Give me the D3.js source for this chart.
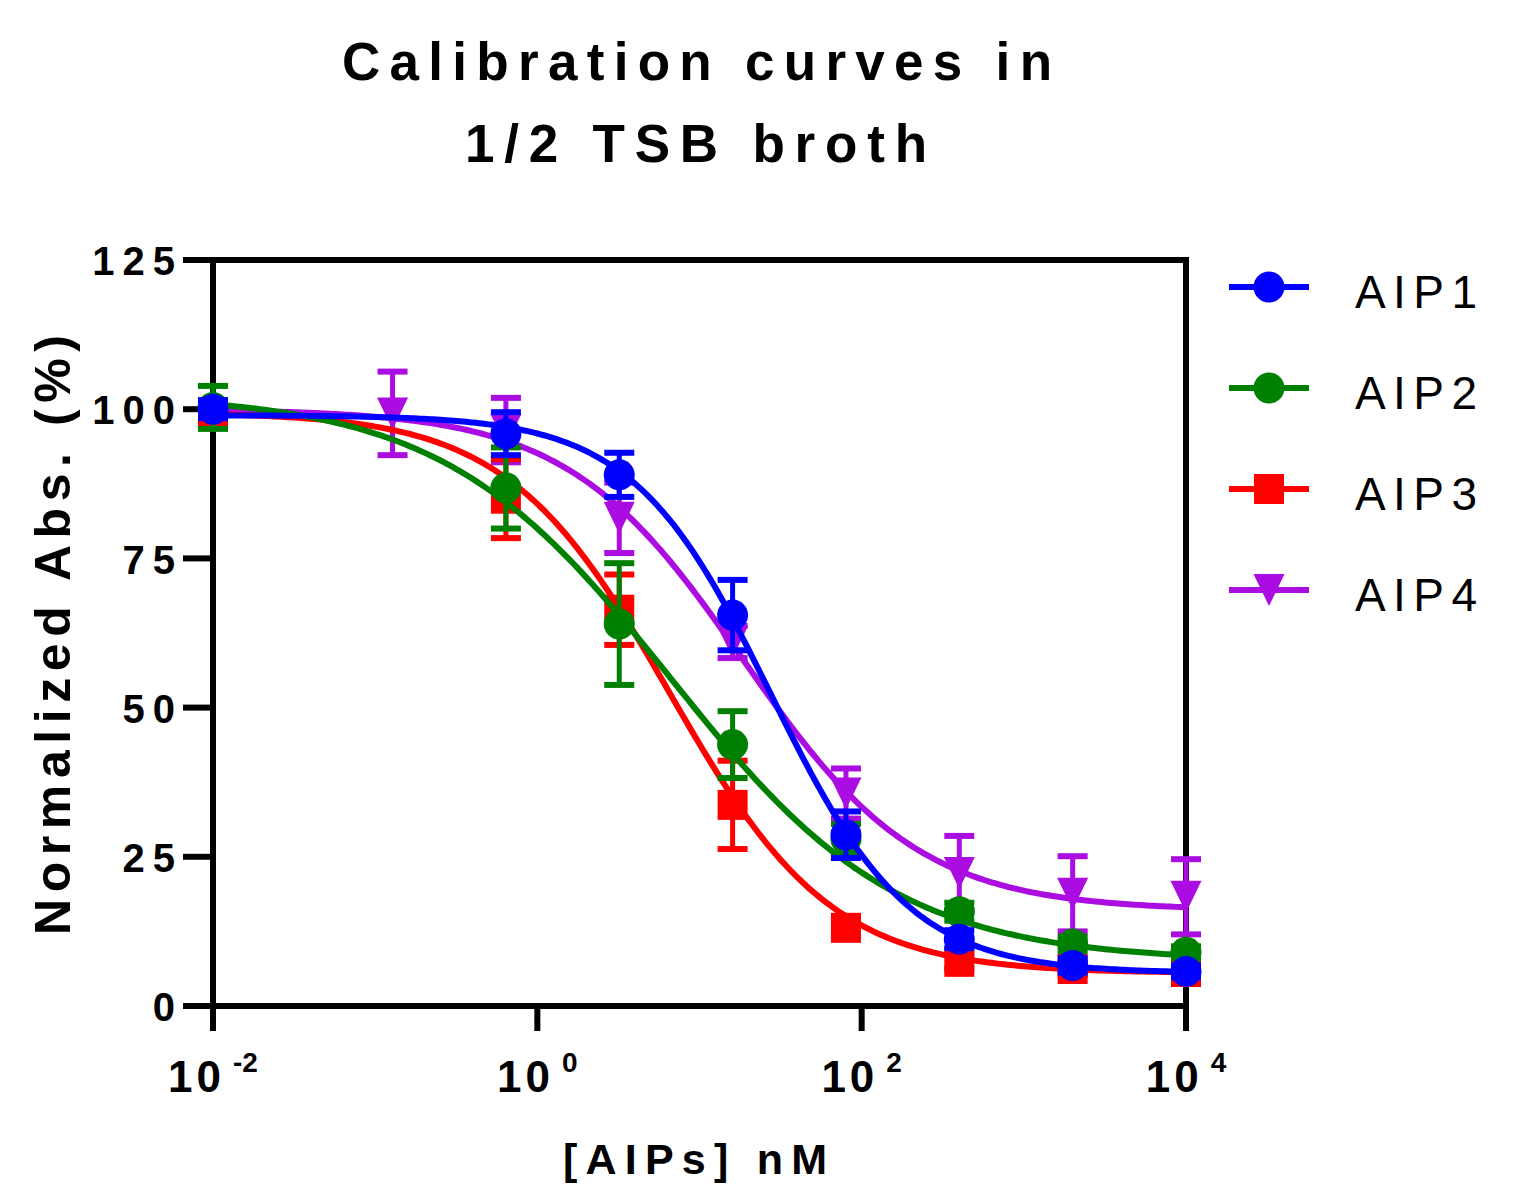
<!DOCTYPE html>
<html>
<head>
<meta charset="utf-8">
<script src="https://cdn.jsdelivr.net/npm/d3@7"></script>
<style>
  body { margin: 0; background: #fff; }
  text { font-family: "Liberation Sans", Arial, sans-serif; fill: #000; }
</style>
</head>
<body>
<svg id="chart" width="1515" height="1188"></svg>
<script>
// concentrations (nM)
const concAIP = [0.01, 0.64, 3.2, 16, 80, 400, 2000, 10000];
const concAIP4 = [0.128, 0.64, 3.2, 16, 80, 400, 2000, 10000];

// normalized absorbance (%) and error bars
const aip1Mean = [100, 95.9, 89, 65.5, 28.7, 11.2, 6.8, 5.8];
const aip1Err = [1.5, 3.6, 3.7, 5.9, 3.9, 1.5, 1.2, 1.0];
const aip2Mean = [100.3, 86.8, 64, 43.8, 28, 15.8, 10.4, 9];
const aip2Err = [3.6, 6.8, 10.2, 5.6, 2.5, 1.5, 1.2, 1.0];
const aip3Mean = [99.5, 85, 66.4, 33.7, 13.1, 7.4, 6.2, 5.7];
const aip3Err = [2, 6.6, 5.9, 7.4, 1.5, 1.2, 1.0, 1.0];
const aip4Mean = [99.3, 96.5, 81.8, 61, 35.6, 22.3, 18.8, 18.3];
const aip4Err = [7.0, 5.4, 5.9, 2.7, 4.2, 6.2, 6.3, 6.3];

const seriesNames = ["AIP1", "AIP2", "AIP3", "AIP4"];
const seriesColors = ["#0000ff", "#008000", "#ff0000", "#aa0ce2"];
const seriesShapes = ["circle", "circle", "square", "triangle"];

// fitted dose-response curves (4PL)
const fitTop = [99, 102.5, 99.5, 100];
const fitBottom = [5.5, 7.5, 5.5, 16];
const fitLogEC50 = [1.44, 0.82, 0.815, 1.27];
const fitHill = [1.02, 0.62, 0.87, 0.8];

const yTicks = [0, 25, 50, 75, 100, 125];
const xTicks = [1e-2, 1e0, 1e2, 1e4];
const xTickExp = ["-2", "0", "2", "4"];

const series = seriesNames.map((name, i) => ({
  name,
  color: seriesColors[i],
  shape: seriesShapes[i],
  conc: i === 3 ? concAIP4 : concAIP,
  mean: [aip1Mean, aip2Mean, aip3Mean, aip4Mean][i],
  err: [aip1Err, aip2Err, aip3Err, aip4Err][i],
  fit: { top: fitTop[i], bottom: fitBottom[i], logEC50: fitLogEC50[i], hill: fitHill[i] }
}));

const svg = d3.select("#chart");

const x = d3.scaleLog().domain([1e-2, 1e4]).range([213, 1186]);
const y = d3.scaleLinear().domain([0, 125]).range([1006, 260]);

// titles
const title = svg.append("g").attr("font-weight", "bold").attr("font-size", 53);
title.append("text").attr("x", 342).attr("y", 80)
  .attr("textLength", 710).attr("lengthAdjust", "spacing")
  .text("Calibration curves in");
title.append("text").attr("x", 465).attr("y", 162)
  .attr("textLength", 462).attr("lengthAdjust", "spacing")
  .text("1/2 TSB broth");

// y axis label
svg.append("text")
  .attr("transform", "translate(70,635) rotate(-90)")
  .attr("text-anchor", "middle")
  .attr("font-weight", "bold").attr("font-size", 50)
  .attr("textLength", 600).attr("lengthAdjust", "spacing")
  .text("Normalized Abs. (%)");

// x axis label
svg.append("text")
  .attr("x", 563).attr("y", 1174)
  .attr("font-weight", "bold").attr("font-size", 43)
  .attr("textLength", 264).attr("lengthAdjust", "spacing")
  .text("[AIPs] nM");

// y ticks
const yAxis = svg.append("g");
yAxis.selectAll("line").data(yTicks).join("line")
  .attr("x1", 183).attr("x2", 213)
  .attr("y1", d => y(d)).attr("y2", d => y(d))
  .attr("stroke", "#000").attr("stroke-width", 6);
yAxis.selectAll("text").data(yTicks).join("text")
  .attr("x", 175 + 8).attr("y", d => y(d))
  .attr("dy", "0.38em")
  .attr("text-anchor", "end")
  .attr("font-weight", "bold").attr("font-size", 40)
  .style("letter-spacing", "8px")
  .text(d => d);

// x ticks
const xAxis = svg.append("g");
xAxis.selectAll("line").data(xTicks).join("line")
  .attr("x1", d => x(d)).attr("x2", d => x(d))
  .attr("y1", 1006).attr("y2", 1031)
  .attr("stroke", "#000").attr("stroke-width", 6);
const xl = xAxis.selectAll("text").data(xTicks).join("text")
  .attr("x", d => x(d)).attr("y", 1092)
  .attr("text-anchor", "middle")
  .attr("font-weight", "bold").attr("font-size", 44);
xl.append("tspan").style("letter-spacing", "4px").text("10");
xl.append("tspan").attr("dx", 8).attr("dy", -20).attr("font-size", 28).text((d, i) => xTickExp[i]);

// frame
svg.append("rect")
  .attr("x", 213).attr("y", 260)
  .attr("width", 1186 - 213).attr("height", 1006 - 260)
  .attr("fill", "none").attr("stroke", "#000").attr("stroke-width", 6);

function markerPath(shape) {
  if (shape === "circle") return d3.symbol(d3.symbolCircle, Math.PI * 15.5 * 15.5)();
  if (shape === "square") return d3.symbol(d3.symbolSquare, 30 * 30)();
  return "M-15.5,-16L15.5,-16L0,16Z";
}

const fitLine = d3.line().x(d => x(d[0])).y(d => y(d[1]));
const logGrid = d3.range(-2, 4.0001, 0.02);

// draw series back to front: AIP4, AIP3, AIP2, AIP1
series.slice().reverse().forEach(s => {
  const g = svg.append("g");
  const f = s.fit;
  const pts = logGrid.map(l => [Math.pow(10, l),
    f.bottom + (f.top - f.bottom) / (1 + Math.pow(10, (l - f.logEC50) * f.hill))]);
  g.append("path").attr("d", fitLine(pts))
    .attr("fill", "none").attr("stroke", s.color).attr("stroke-width", 6);

  const data = s.conc.map((c, i) => ({ c, m: s.mean[i], e: s.err[i] }));
  const eb = g.selectAll(".eb").data(data).join("g");
  eb.append("line")
    .attr("x1", d => x(d.c)).attr("x2", d => x(d.c))
    .attr("y1", d => y(d.m - d.e)).attr("y2", d => y(d.m + d.e))
    .attr("stroke", s.color).attr("stroke-width", 5);
  [-1, 1].forEach(sign => {
    eb.append("line")
      .attr("x1", d => x(d.c) - 15).attr("x2", d => x(d.c) + 15)
      .attr("y1", d => y(d.m + sign * d.e)).attr("y2", d => y(d.m + sign * d.e))
      .attr("stroke", s.color).attr("stroke-width", 6);
  });
  g.selectAll(".mk").data(data).join("path")
    .attr("transform", d => `translate(${x(d.c)},${y(d.m)})`)
    .attr("d", markerPath(s.shape))
    .attr("fill", s.color);
});

// legend
const legend = svg.append("g");
series.forEach((s, i) => {
  const cy = 287 + i * 101;
  legend.append("line")
    .attr("x1", 1229).attr("x2", 1309).attr("y1", cy).attr("y2", cy)
    .attr("stroke", s.color).attr("stroke-width", 6);
  legend.append("path")
    .attr("transform", `translate(1269,${cy})`)
    .attr("d", markerPath(s.shape)).attr("fill", s.color);
  legend.append("text")
    .attr("x", 1355).attr("y", cy + 21)
    .attr("font-size", 46)
    .attr("textLength", 122).attr("lengthAdjust", "spacing")
    .text(s.name);
});
</script>
</body>
</html>
